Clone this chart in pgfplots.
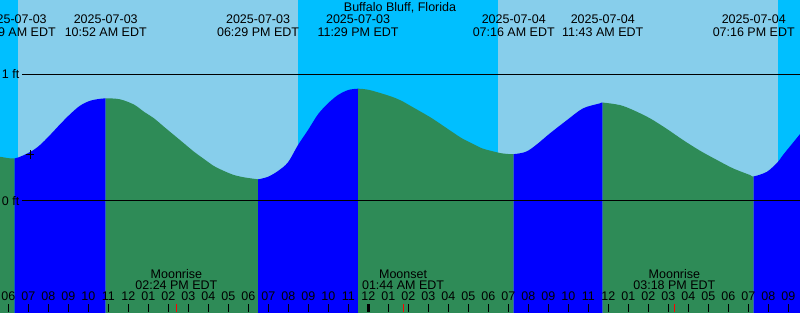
\documentclass[border=0pt]{standalone}
\usepackage{fontspec}
\setmainfont{Liberation Sans}
\usepackage{pgfplots}
\pgfplotsset{compat=1.18}
\usepgfplotslibrary{fillbetween}
\definecolor{nightsky}{HTML}{00BFFF}
\definecolor{daysky}{HTML}{87CEEB}
\definecolor{ebb}{HTML}{2E8B57}
\definecolor{flood}{HTML}{0000FF}
\newcommand\lf{\fontsize{12.5pt}{15pt}\selectfont}
\newcommand\evlabel[3]{%
  \node[anchor=base,font=\lf,inner sep=0pt] at (axis cs:#1,1.400) {#2};
  \node[anchor=base,font=\lf,inner sep=0pt] at (axis cs:#1,1.304) {#3};}
\newcommand\moonlabel[3]{%
  \node[anchor=base,font=\lf,inner sep=0pt] at (axis cs:#1,-0.617) {#2};
  \node[anchor=base,font=\lf,inner sep=0pt] at (axis cs:#1,-0.706) {#3};}
\begin{document}
\begin{tikzpicture}
\begin{axis}[
  set layers,
  width=800pt, height=312pt, scale only axis,
  xmin=5.58, xmax=45.58, ymin=-0.886, ymax=1.590,
  axis line style={draw=none},
  ytick=\empty,
  xtick={6,...,45},
  xticklabels={06,07,08,09,10,11,12,01,02,03,04,05,06,07,08,09,10,11,12,01,02,03,04,05,06,07,08,09,10,11,12,01,02,03,04,05,06,07,08,09},
  xtick pos=lower,
  tick align=inside,
  major tick length=8pt,
  xtick style={black, line width=1pt},
  xticklabel style={anchor=base, yshift=11.3pt, font=\lf, inner sep=0pt},
  axis on top,
  clip=true,
]
% sky: night / day
\addplot[fill=nightsky, draw=none, on layer=axis background] coordinates {(5.4,-1) (5.4,1.7) (6.48,1.7) (6.48,-1)} -- cycle;
\addplot[fill=daysky, draw=none, on layer=axis background] coordinates {(6.48,-1) (6.48,1.7) (20.48,1.7) (20.48,-1)} -- cycle;
\addplot[fill=nightsky, draw=none, on layer=axis background] coordinates {(20.48,-1) (20.48,1.7) (30.48,1.7) (30.48,-1)} -- cycle;
\addplot[fill=daysky, draw=none, on layer=axis background] coordinates {(30.48,-1) (30.48,1.7) (44.48,1.7) (44.48,-1)} -- cycle;
\addplot[fill=nightsky, draw=none, on layer=axis background] coordinates {(44.48,-1) (44.48,1.7) (45.8,1.7) (45.8,-1)} -- cycle;
% tide curve (ft) against hours since 2025-07-03 00:00
\addplot[draw=none, smooth, name path=tide] coordinates {
(5.4,0.348) (5.58,0.346) (6.317,0.333) (7.08,0.383) (7.58,0.439) (8.08,0.518) (8.58,0.603) (9.08,0.683) (9.58,0.751) (10.08,0.790) (10.58,0.806) (10.867,0.810)
(11.58,0.802) (12.28,0.760) (12.78,0.703) (13.28,0.651) (13.78,0.584) (14.28,0.518) (14.78,0.452) (15.28,0.386) (15.78,0.328) (16.28,0.272) (16.78,0.233) (17.28,0.201) (17.78,0.183) (18.28,0.171) (18.483,0.167)
(18.98,0.187) (19.48,0.233) (19.98,0.302) (20.48,0.439) (20.98,0.558) (21.48,0.683) (21.98,0.770) (22.48,0.836) (22.98,0.875) (23.483,0.886)
(23.98,0.878) (24.48,0.857) (25.18,0.822) (25.68,0.788) (26.18,0.743) (26.68,0.698) (27.18,0.651) (27.68,0.598) (28.18,0.544) (28.68,0.492) (29.18,0.452) (29.68,0.413) (30.18,0.391) (30.68,0.373) (31.267,0.367)
(31.88,0.386) (32.38,0.439) (33.08,0.532) (33.93,0.637) (34.73,0.730) (35.58,0.770) (35.717,0.776)
(36.58,0.756) (37.23,0.717) (38.08,0.651) (38.93,0.566) (39.73,0.479) (40.58,0.394) (41.43,0.320) (42.23,0.254) (43.08,0.201) (43.267,0.190)
(43.93,0.227) (44.48,0.306) (44.73,0.360) (45.58,0.526) (45.8,0.57)};
\addplot[draw=none, name path=bot] coordinates {(5.4,-1) (45.8,-1)};
% water: falling (ebb) and rising (flood)
\addplot[fill=ebb, draw=none] fill between[of=tide and bot, soft clip={domain=5.4:6.317}];
\addplot[fill=flood, draw=none] fill between[of=tide and bot, soft clip={domain=6.317:10.867}];
\addplot[fill=ebb, draw=none] fill between[of=tide and bot, soft clip={domain=10.867:18.483}];
\addplot[fill=flood, draw=none] fill between[of=tide and bot, soft clip={domain=18.483:23.483}];
\addplot[fill=ebb, draw=none] fill between[of=tide and bot, soft clip={domain=23.483:31.267}];
\addplot[fill=flood, draw=none] fill between[of=tide and bot, soft clip={domain=31.267:35.717}];
\addplot[fill=ebb, draw=none] fill between[of=tide and bot, soft clip={domain=35.717:43.267}];
\addplot[fill=flood, draw=none] fill between[of=tide and bot, soft clip={domain=43.267:45.8}];
% datum lines
\addplot[black, line width=1pt] coordinates {(6.68,1) (45.8,1)};
\addplot[black, line width=1pt] coordinates {(6.68,0) (45.8,0)};
% now marker
\addplot[black, only marks, mark=+, mark size=4.3pt, mark options={line width=1pt}] coordinates {(7.08,0.365)};
% moon event ticks and midnight tick
\addplot[red, line width=1pt] coordinates {(14.4,-0.886) (14.4,-0.823)};
\addplot[red, line width=1pt] coordinates {(25.733,-0.886) (25.733,-0.823)};
\addplot[red, line width=1pt] coordinates {(39.3,-0.886) (39.3,-0.823)};
\addplot[black, line width=3pt] coordinates {(24,-0.886) (24,-0.823)};
% labels
\node[anchor=base,font=\lf,inner sep=0pt] at (axis cs:25.58,1.502) {Buffalo Bluff, Florida};
\node[anchor=base east,font=\lf,inner sep=0pt] at (axis cs:6.555,0.968) {1 ft};
\node[anchor=base east,font=\lf,inner sep=0pt] at (axis cs:6.555,-0.037) {0 ft};
\evlabel{6.317}{2025-07-03}{06:19 AM EDT}
\evlabel{10.867}{2025-07-03}{10:52 AM EDT}
\evlabel{18.483}{2025-07-03}{06:29 PM EDT}
\evlabel{23.483}{2025-07-03}{11:29 PM EDT}
\evlabel{31.267}{2025-07-04}{07:16 AM EDT}
\evlabel{35.717}{2025-07-04}{11:43 AM EDT}
\evlabel{43.267}{2025-07-04}{07:16 PM EDT}
\moonlabel{14.4}{Moonrise}{02:24 PM EDT}
\moonlabel{25.733}{Moonset}{01:44 AM EDT}
\moonlabel{39.3}{Moonrise}{03:18 PM EDT}
\end{axis}
\pgfresetboundingbox
\useasboundingbox (current axis.south west) rectangle (current axis.north east);
\end{tikzpicture}
\end{document}
